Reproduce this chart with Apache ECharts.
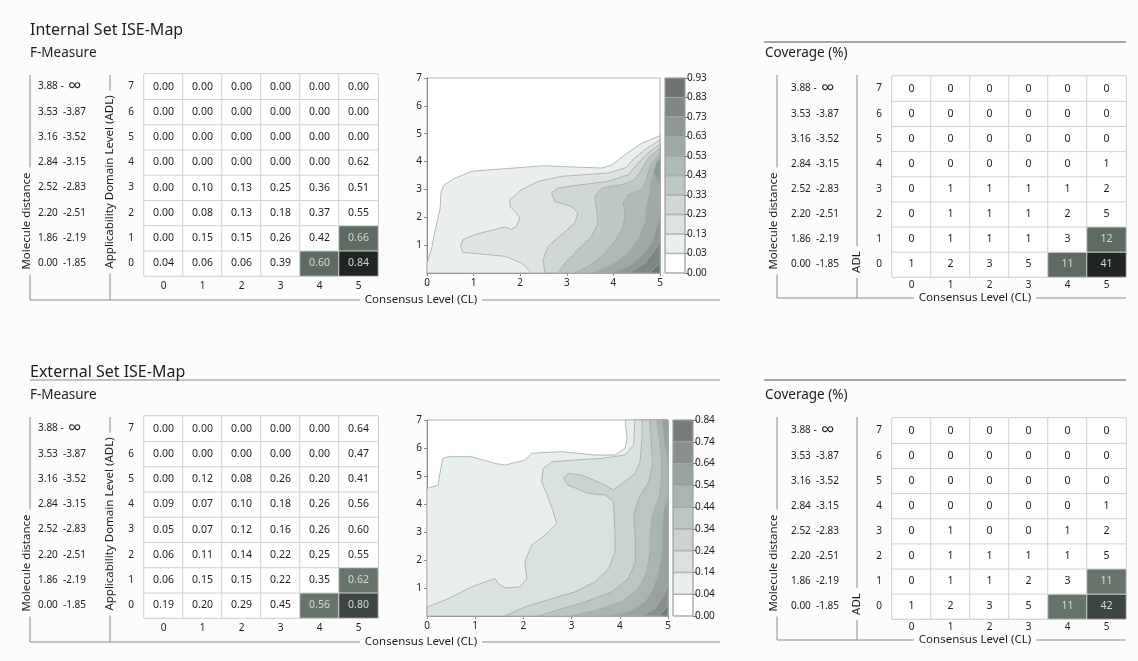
<!DOCTYPE html>
<html lang="en">
<head>
<meta charset="UTF-8">
<title>ISE-Map</title>
<script src="https://cdn.jsdelivr.net/npm/echarts@6/dist/echarts.min.js"></script>
<style>
  html, body { margin: 0; padding: 0; background: #fcfcfc; }
  #chart { width: 1138px; height: 661px; }
</style>
</head>
<body>
<div id="chart"></div>
<script>
var FONT = '"Noto Sans", "Open Sans", sans-serif';

var clLevels = ['0', '1', '2', '3', '4', '5'];
var adlLevels = ['0', '1', '2', '3', '4', '5', '6', '7'];
var distLow = ['0.00', '1.86', '2.20', '2.52', '2.84', '3.16', '3.53', '3.88 -'];
var distHigh = ['-1.85', '-2.19', '-2.51', '-2.83', '-3.15', '-3.52', '-3.87', '\u221e'];

// rows = ADL 0..7, columns = CL 0..5
var fInternal = [
  [0.04, 0.06, 0.06, 0.39, 0.60, 0.84],
  [0.00, 0.15, 0.15, 0.26, 0.42, 0.66],
  [0.00, 0.08, 0.13, 0.18, 0.37, 0.55],
  [0.00, 0.10, 0.13, 0.25, 0.36, 0.51],
  [0.00, 0.00, 0.00, 0.00, 0.00, 0.62],
  [0.00, 0.00, 0.00, 0.00, 0.00, 0.00],
  [0.00, 0.00, 0.00, 0.00, 0.00, 0.00],
  [0.00, 0.00, 0.00, 0.00, 0.00, 0.00]
];
var covInternal = [
  [1, 2, 3, 5, 11, 41],
  [0, 1, 1, 1, 3, 12],
  [0, 1, 1, 1, 2, 5],
  [0, 1, 1, 1, 1, 2],
  [0, 0, 0, 0, 0, 1],
  [0, 0, 0, 0, 0, 0],
  [0, 0, 0, 0, 0, 0],
  [0, 0, 0, 0, 0, 0]
];
var fExternal = [
  [0.19, 0.20, 0.29, 0.45, 0.56, 0.80],
  [0.06, 0.15, 0.15, 0.22, 0.35, 0.62],
  [0.06, 0.11, 0.14, 0.22, 0.25, 0.55],
  [0.05, 0.07, 0.12, 0.16, 0.26, 0.60],
  [0.09, 0.07, 0.10, 0.18, 0.26, 0.56],
  [0.00, 0.12, 0.08, 0.26, 0.20, 0.41],
  [0.00, 0.00, 0.00, 0.00, 0.00, 0.47],
  [0.00, 0.00, 0.00, 0.00, 0.00, 0.64]
];
var covExternal = [
  [1, 2, 3, 5, 11, 42],
  [0, 1, 1, 2, 3, 11],
  [0, 1, 1, 1, 1, 5],
  [0, 1, 0, 0, 1, 2],
  [0, 0, 0, 0, 0, 1],
  [0, 0, 0, 0, 0, 0],
  [0, 0, 0, 0, 0, 0],
  [0, 0, 0, 0, 0, 0]
];

var intBandLabels = ['0.00', '0.03', '0.13', '0.23', '0.33', '0.43', '0.53', '0.63', '0.73', '0.83', '0.93'];
var intBandColors = ['#ffffff', '#ebf0ee', '#dde4e1', '#cfd8d4', '#bfc9c4', '#aebab4', '#9eaaa4', '#8e9993', '#7e8783', '#6d7370'];
var extBandLabels = ['0.00', '0.04', '0.14', '0.24', '0.34', '0.44', '0.54', '0.64', '0.74', '0.84'];
var extBandColors = ['#ffffff', '#e9efec', '#dae2de', '#cbd4d0', '#bbc6c0', '#a9b5af', '#98a39d', '#87908c', '#767d79'];

// contour regions, (CL, ADL) points; band = colour index of the region above that level
var intContours = [
  { band: 1, pts: [[0, 0], [0, 0.35], [0.1, 0.9], [0.17, 1.5], [0.22, 1.85], [0.28, 2.3], [0.3, 2.9], [0.36, 3.15], [0.6, 3.4], [0.95, 3.65], [1.3, 3.7], [1.8, 3.76], [2.5, 3.85], [3.2, 3.8], [3.75, 3.77], [3.97, 3.88], [4.25, 4.25], [4.6, 4.65], [5, 4.93], [5, 0]] },
  { band: 2, pts: [[2.24, 0], [2.03, 0.36], [1.67, 0.6], [1.1, 0.69], [0.77, 0.74], [0.72, 0.96], [0.77, 1.2], [1.02, 1.38], [1.45, 1.56], [1.67, 1.65], [1.81, 1.56], [1.92, 1.67], [1.99, 1.97], [1.92, 2.15], [1.78, 2.39], [1.78, 2.63], [2.03, 2.99], [2.39, 3.29], [2.89, 3.47], [3.39, 3.53], [3.89, 3.59], [4.25, 3.77], [4.46, 4.13], [4.68, 4.43], [5, 4.78], [5, 0]] },
  { band: 3, pts: [[2.53, 0], [2.49, 0.48], [2.6, 0.96], [2.89, 1.38], [3.17, 1.79], [3.24, 2.15], [3.1, 2.39], [2.74, 2.57], [2.67, 2.87], [2.81, 3.05], [3.32, 3.17], [3.89, 3.29], [4.32, 3.53], [4.53, 3.95], [4.75, 4.31], [5, 4.64], [5, 0]] },
  { band: 4, pts: [[2.82, 0], [2.96, 0.36], [3.24, 0.84], [3.53, 1.32], [3.67, 1.79], [3.64, 2.27], [3.6, 2.75], [3.75, 3.05], [4.18, 3.17], [4.46, 3.35], [4.6, 3.71], [4.75, 4.13], [5, 4.49], [5, 0]] },
  { band: 5, pts: [[3.17, 0], [3.46, 0.24], [3.75, 0.6], [4.03, 1.14], [4.21, 1.67], [4.25, 2.15], [4.21, 2.51], [4.32, 2.81], [4.6, 2.99], [4.71, 3.35], [4.78, 3.83], [5, 4.31], [5, 0]] },
  { band: 6, pts: [[3.6, 0], [4.03, 0.36], [4.32, 0.72], [4.53, 1.2], [4.68, 1.79], [4.71, 2.39], [4.78, 2.87], [4.82, 3.35], [4.89, 3.71], [5, 4.07], [5, 0]] },
  { band: 7, pts: [[3.96, 0], [4.32, 0.24], [4.6, 0.6], [4.82, 1.08], [4.93, 1.67], [5, 2.15], [5, 0]] },
  { band: 7, pts: [[5, 3.2], [4.86, 3.6], [4.92, 3.95], [5, 4.15]] },
  { band: 8, pts: [[4.32, 0], [4.68, 0.36], [4.89, 0.84], [5, 1.2], [5, 0]] },
  { band: 9, pts: [[4.75, 0], [4.89, 0.18], [5, 0.36], [5, 0]] }
];
var extContours = [
  { band: 1, pts: [[0, 0], [0, 4.56], [0.23, 4.67], [0.26, 5.03], [0.33, 5.63], [0.44, 5.69], [0.92, 5.69], [1.41, 5.45], [1.62, 5.39], [2.03, 5.57], [2.17, 5.81], [2.79, 5.87], [3.49, 5.75], [3.9, 5.75], [4.11, 5.99], [4.15, 6.34], [4.11, 7], [5, 7], [5, 0]] },
  { band: 2, pts: [[0, 0], [0, 0.32], [0.44, 0.62], [0.92, 1.04], [1.41, 1.34], [1.48, 1.16], [1.62, 1.0], [1.93, 1.04], [2.07, 1.34], [2.03, 1.93], [2.17, 2.53], [2.45, 2.89], [2.69, 3.3], [2.62, 3.72], [2.48, 4.38], [2.38, 4.79], [2.41, 5.27], [2.59, 5.51], [3.07, 5.57], [3.63, 5.63], [4.11, 5.75], [4.29, 6.11], [4.31, 7], [5, 7], [5, 0]] },
  { band: 3, pts: [[1.62, 0], [2.03, 0.32], [2.59, 0.62], [3.07, 0.86], [3.49, 1.22], [3.77, 1.69], [3.9, 2.29], [3.9, 3.0], [3.87, 4.08], [3.7, 4.32], [3.35, 4.38], [2.93, 4.67], [2.83, 4.91], [2.93, 5.09], [3.21, 5.03], [3.63, 4.73], [3.87, 4.5], [4.04, 4.73], [4.32, 5.09], [4.42, 5.51], [4.46, 6.35], [4.46, 7], [5, 7], [5, 0]] },
  { band: 4, pts: [[2.31, 0], [2.79, 0.26], [3.28, 0.5], [3.83, 0.86], [4.18, 1.34], [4.32, 1.93], [4.32, 2.77], [4.29, 3.6], [4.39, 4.2], [4.6, 4.79], [4.68, 5.39], [4.65, 6.34], [4.62, 7], [5, 7], [5, 0]] },
  { band: 5, pts: [[3.0, 0], [3.49, 0.2], [4.04, 0.5], [4.39, 0.98], [4.56, 1.57], [4.63, 2.29], [4.63, 3.0], [4.67, 3.6], [4.81, 4.2], [4.86, 4.79], [4.86, 5.75], [4.77, 7], [5, 7], [5, 0]] },
  { band: 6, pts: [[3.77, 0], [4.18, 0.14], [4.53, 0.5], [4.7, 0.98], [4.81, 1.57], [4.88, 2.29], [4.88, 3.0], [4.91, 3.72], [5, 4.2], [5, 0]] },
  { band: 6, pts: [[4.88, 7], [4.94, 6.1], [5, 5.51], [5, 7]] },
  { band: 7, pts: [[4.46, 0], [4.74, 0.26], [4.91, 0.74], [5, 1.1], [5, 0]] },
  { band: 8, pts: [[4.81, 0], [5, 0.38], [5, 0]] }
];

var SHADE_MIN = 10;   // coverage from which a cell is shaded
var SHADE_DARK = 20;

var sections = [
  { base: 0, title: 'Internal Set ISE-Map', underline: false, covLineY: 42, contourW: 233, contourH: 195,
    f: fInternal, cov: covInternal, contours: intContours, bandLabels: intBandLabels, bandColors: intBandColors,
    mid: '#5e6b63', dark: '#1f2621' },
  { base: 342, title: 'External Set ISE-Map', underline: true, covLineY: 380, contourW: 241, contourH: 196,
    f: fExternal, cov: covExternal, contours: extContours, bandLabels: extBandLabels, bandColors: extBandColors,
    mid: '#67746c', dark: '#3c453f' }
];

var grid = [], xAxis = [], yAxis = [], series = [], visualMap = [], graphic = [];

function cells(vals, cov) {
  var out = [];
  for (var y = 0; y < vals.length; y++) {
    for (var x = 0; x < vals[y].length; x++) {
      out.push({
        value: [x, y, vals[y][x], cov[y][x]],
        label: { color: cov[y][x] >= SHADE_MIN ? '#d3dad5' : '#1d1d1d' }
      });
    }
  }
  return out;
}

function rowLabel(gap) {
  return {
    margin: 9, fontFamily: FONT, fontSize: 10, color: '#222',
    formatter: function (v, i) {
      if (i === 7) return '{t|' + distLow[i] + '}{inf|' + distHigh[i] + '}{g|}{n|' + v + '}';
      return '{a|' + distLow[i] + '}{b|' + distHigh[i] + '}{g|}{n|' + v + '}';
    },
    rich: {
      a: { width: 25, align: 'left', fontSize: 10, fontFamily: FONT, color: '#222' },
      b: { width: 28, align: 'left', fontSize: 10, fontFamily: FONT, color: '#222' },
      t: { width: 30, align: 'left', fontSize: 10, fontFamily: FONT, color: '#222' },
      inf: { width: 23, align: 'left', fontSize: 19, fontFamily: FONT, color: '#222', lineHeight: 14 },
      g: { width: gap },
      n: { width: 8, align: 'center', fontSize: 10, fontFamily: FONT, color: '#222' }
    }
  };
}

function heatmap(s, left, top, h, vals, isF, gap, colMargin) {
  var gi = grid.length;
  grid.push({ left: left, top: top, width: 234, height: h, show: true, backgroundColor: '#fff',
    borderColor: '#bdbdbd', borderWidth: 1 });
  xAxis.push({ gridIndex: gi, type: 'category', data: clLevels,
    axisLine: { show: false }, axisTick: { show: false }, splitLine: { show: false },
    axisLabel: { fontFamily: FONT, fontSize: 10, color: '#222', margin: colMargin } });
  yAxis.push({ gridIndex: gi, type: 'category', data: adlLevels, position: 'left',
    axisLine: { show: false }, axisTick: { show: false }, splitLine: { show: false },
    axisLabel: rowLabel(gap) });
  series.push({
    type: 'heatmap', xAxisIndex: gi, yAxisIndex: gi,
    data: cells(vals, s.cov),
    itemStyle: { borderColor: '#d2d2d2', borderWidth: 1 },
    label: {
      show: true, fontFamily: FONT, fontSize: 10.5,
      formatter: function (p) { return isF ? p.value[2].toFixed(2) : String(p.value[2]); }
    },
    emphasis: { disabled: true },
    silent: true
  });
  return series.length - 1;
}

function contour(s, top) {
  var gi = grid.length;
  grid.push({ left: 427, top: top, width: s.contourW, height: s.contourH, show: true,
    backgroundColor: '#fff', borderColor: '#b4b4b4', borderWidth: 1 });
  var axisStyle = {
    axisLine: { show: true, lineStyle: { color: '#8c8c8c' } },
    axisTick: { show: true, length: 3, lineStyle: { color: '#8c8c8c' } },
    splitLine: { show: false }
  };
  xAxis.push(Object.assign({ gridIndex: gi, type: 'value', min: 0, max: 5, interval: 1,
    axisLabel: { fontFamily: FONT, fontSize: 10, color: '#222', margin: 5 } }, axisStyle));
  yAxis.push(Object.assign({ gridIndex: gi, type: 'value', min: 0, max: 7, interval: 1,
    axisLabel: { fontFamily: FONT, fontSize: 10, color: '#222', margin: 5, showMinLabel: false } }, axisStyle));
  series.push({
    type: 'custom', xAxisIndex: gi, yAxisIndex: gi, silent: true, animation: false,
    data: s.contours.map(function (c, i) { return [i, 0]; }),
    renderItem: function (params, api) {
      var c = s.contours[params.dataIndex];
      return {
        type: 'polygon',
        shape: { points: c.pts.map(function (p) { return api.coord(p); }) },
        style: { fill: s.bandColors[c.band], stroke: '#a2aaa5', lineWidth: 0.8 }
      };
    }
  });

  // colour bar
  var bi = grid.length;
  grid.push({ left: 427 + s.contourW + 5, top: top, width: 20, height: s.contourH, show: true,
    borderColor: '#9a9a9a', borderWidth: 1 });
  xAxis.push({ gridIndex: bi, type: 'category', data: [''], show: false });
  yAxis.push({ gridIndex: bi, type: 'value', position: 'right', min: 0, max: s.bandColors.length, interval: 1,
    axisLine: { show: false }, splitLine: { show: false },
    axisTick: { show: true, length: 4, lineStyle: { color: '#7a7a7a' } },
    axisLabel: { fontFamily: FONT, fontSize: 10, color: '#222', margin: 2,
      formatter: function (v) { return s.bandLabels[v]; } } });
  s.bandColors.forEach(function (col) {
    series.push({ type: 'bar', xAxisIndex: bi, yAxisIndex: bi, stack: 'bar' + bi, data: [1],
      barWidth: '100%', silent: true,
      itemStyle: { color: col, borderColor: '#8e8e8e', borderWidth: 0.6 } });
  });
}

function line(x1, y1, x2, y2, w) {
  return { type: 'line', silent: true, shape: { x1: x1, y1: y1, x2: x2, y2: y2 },
    style: { stroke: '#8a8a8a', lineWidth: w || 1 } };
}
function text(x, y, str, size, opts) {
  opts = opts || {};
  var el = { type: 'text', silent: true, x: x, y: y, z: 10,
    style: { text: str, fontFamily: FONT, fontSize: size, fill: '#1d1d1d',
      align: opts.align || 'left', verticalAlign: 'middle' } };
  if (opts.bg) { el.style.backgroundColor = '#fcfcfc'; el.style.padding = [0, 5]; }
  if (opts.rotate) el.rotation = Math.PI / 2;
  return el;
}

sections.forEach(function (s) {
  var b = s.base;
  var fIdx = heatmap(s, 144, 74 + b, 202, s.f, true, 36, 5);
  contour(s, 78 + b);
  var cIdx = heatmap(s, 892, 76 + b, 201, s.cov, false, 31, 3);
  visualMap.push({
    type: 'piecewise', show: false, dimension: 3, seriesIndex: [fIdx, cIdx],
    pieces: [
      { lt: SHADE_MIN, color: '#ffffff' },
      { gte: SHADE_MIN, lt: SHADE_DARK, color: s.mid },
      { gte: SHADE_DARK, color: s.dark }
    ]
  });

  graphic.push(text(30, 30 + b, s.title, 16));
  if (s.underline) graphic.push(line(30, 38 + b, 720, 38 + b, 1.2));
  graphic.push(text(30, 53 + b, 'F-Measure', 13.5));
  graphic.push(line(764, s.covLineY, 1126, s.covLineY, 1.5));
  graphic.push(text(765, 53 + b, 'Coverage (%)', 13.5));

  // F-measure brackets
  graphic.push(line(30, 75 + b, 30, 300 + b));
  graphic.push(line(110, 75 + b, 110, 300 + b));
  graphic.push(line(30, 300 + b, 720, 300 + b));
  graphic.push(text(27, 221 + b, 'Molecule distance', 11.5, { align: 'center', bg: true, rotate: true }));
  graphic.push(text(110, 182 + b, 'Applicability Domain Level (ADL)', 11.5, { align: 'center', bg: true, rotate: true }));
  graphic.push(text(421, 300 + b, 'Consensus Level (CL)', 11.5, { align: 'center', bg: true }));

  // coverage brackets
  graphic.push(line(777, 75 + b, 777, 298 + b));
  graphic.push(line(857, 75 + b, 857, 298 + b));
  graphic.push(line(777, 298 + b, 1126, 298 + b));
  graphic.push(text(774, 221 + b, 'Molecule distance', 11.5, { align: 'center', bg: true, rotate: true }));
  graphic.push(text(857, 262 + b, 'ADL', 11.5, { align: 'center', bg: true, rotate: true }));
  graphic.push(text(975, 298 + b, 'Consensus Level (CL)', 11.5, { align: 'center', bg: true }));
});

var chart = echarts.init(document.getElementById('chart'));
chart.setOption({
  animation: false,
  textStyle: { fontFamily: FONT },
  grid: grid,
  xAxis: xAxis,
  yAxis: yAxis,
  visualMap: visualMap,
  series: series,
  graphic: graphic
});
</script>
</body>
</html>
